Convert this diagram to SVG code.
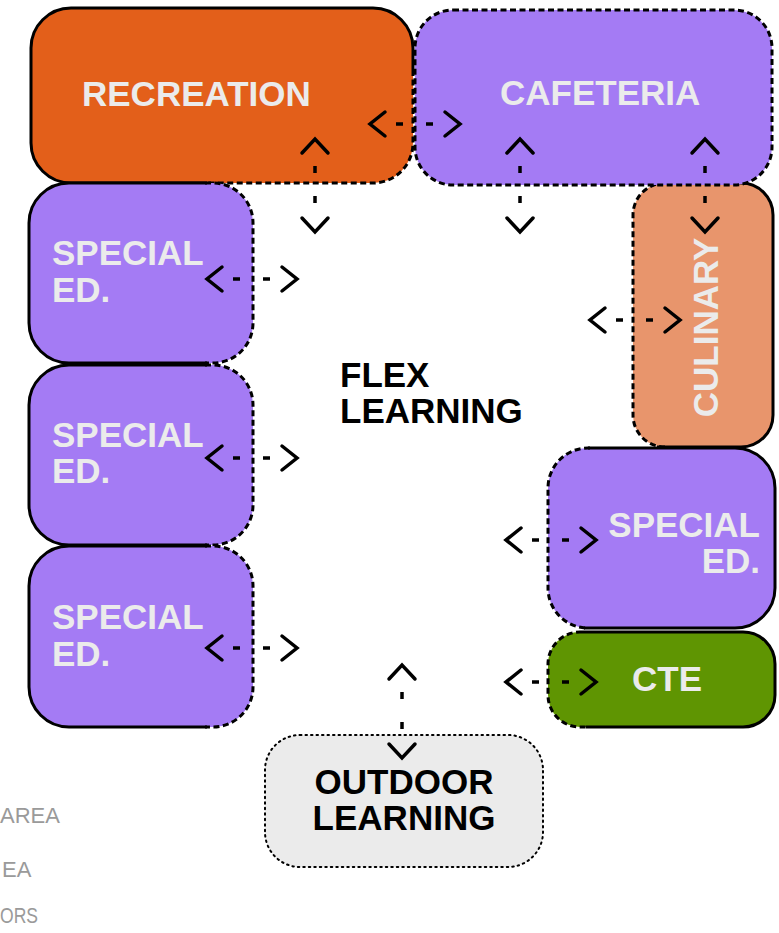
<svg xmlns="http://www.w3.org/2000/svg" width="779" height="933" viewBox="0 0 779 933">
<style>
.lbl{font-family:"Liberation Sans",Arial,sans-serif;font-weight:bold;font-size:35px;fill:#EBEBEB}
.dark{fill:#000}
.solid{fill:none;stroke:#000;stroke-width:3}
.dash{fill:none;stroke:#000;stroke-width:3;stroke-dasharray:6 3.5}
.dot{fill:#EBEBEB;stroke:#000;stroke-width:2;stroke-dasharray:1.5 4;stroke-linecap:round}
.arr{fill:none;stroke:#000;stroke-width:3.5;stroke-linecap:round;stroke-linejoin:miter}
.arrd{fill:none;stroke:#000;stroke-width:3.5;stroke-dasharray:7 23}
.legend{font-family:"Liberation Sans",Arial,sans-serif;font-size:22px;fill:#9A9A9A}
.orange{fill:#E35F1A}
.purple{fill:#A47BF4}
.salmon{fill:#E8956C}
.green{fill:#5F9502}
</style>
<defs>
<g id="harrow">
<path class="arr" d="M15,-12 L0,0 L15,12"/>
<path class="arrd" d="M26,0 H64"/>
<path class="arr" d="M75,-12 L90,0 L75,12"/>
</g>
<g id="varrow">
<path class="arr" d="M-13,14 L0,0 L13,14"/>
<path class="arrd" d="M0,27 V65"/>
<path class="arr" d="M-13,79 L0,93 L13,79"/>
</g>
</defs>

<g id="recreation">
<rect class="orange" x="31" y="8" width="382" height="175" rx="40"/>
<path class="solid" d="M205,183 H71 A40,40 0 0 1 31,143 V48 A40,40 0 0 1 71,8 H373 A40,40 0 0 1 413,48 V70"/>
<path class="dash" d="M413,70 V143 A40,40 0 0 1 373,183 H205"/>
<text class="lbl" x="82" y="106">RECREATION</text>
</g>

<g id="culinary">
<rect class="salmon" x="633" y="183" width="140" height="264" rx="32"/>
<path class="solid" d="M665,183 H741 A32,32 0 0 1 773,215 V415 A32,32 0 0 1 741,447 H657"/>
<path class="dash" d="M665,447 A32,32 0 0 1 633,415 V215 A32,32 0 0 1 665,183"/>
<text class="lbl" transform="translate(718,327.5) rotate(-90)" text-anchor="middle" x="0" y="0">CULINARY</text>
</g>

<g id="cafeteria">
<rect class="purple" x="415" y="10" width="357" height="175" rx="38"/>
<rect class="dash" x="415" y="10" width="357" height="175" rx="38"/>
<text class="lbl" x="500" y="105">CAFETERIA</text>
</g>

<g id="special-ed-1">
<rect class="purple" x="29" y="183" width="224" height="180" rx="40"/>
<path class="solid" d="M207,183 H69 A40,40 0 0 0 29,223 V323 A40,40 0 0 0 69,363 H207"/>
<path class="dash" d="M205,183 H213 A40,40 0 0 1 253,223 V323 A40,40 0 0 1 213,363 H205"/>
<text class="lbl" x="52" y="265">SPECIAL</text>
<text class="lbl" x="52" y="302">ED.</text>
</g>

<g id="special-ed-2">
<rect class="purple" x="29" y="365" width="224" height="180" rx="40"/>
<path class="solid" d="M207,365 H69 A40,40 0 0 0 29,405 V505 A40,40 0 0 0 69,545 H207"/>
<path class="dash" d="M205,365 H213 A40,40 0 0 1 253,405 V505 A40,40 0 0 1 213,545 H205"/>
<text class="lbl" x="52" y="447">SPECIAL</text>
<text class="lbl" x="52" y="483">ED.</text>
</g>

<g id="special-ed-3">
<rect class="purple" x="29" y="546" width="224" height="181" rx="40"/>
<path class="solid" d="M207,546 H69 A40,40 0 0 0 29,586 V687 A40,40 0 0 0 69,727 H207"/>
<path class="dash" d="M205,546 H213 A40,40 0 0 1 253,586 V687 A40,40 0 0 1 213,727 H205"/>
<text class="lbl" x="52" y="629">SPECIAL</text>
<text class="lbl" x="52" y="666">ED.</text>
</g>

<g id="special-ed-4">
<rect class="purple" x="548" y="448" width="227" height="180" rx="40"/>
<path class="solid" d="M588,448 H735 A40,40 0 0 1 775,488 V588 A40,40 0 0 1 735,628 H584"/>
<path class="dash" d="M590,448 H588 A40,40 0 0 0 548,488 V588 A40,40 0 0 0 588,628"/>
<text class="lbl" x="760" y="537" text-anchor="end">SPECIAL</text>
<text class="lbl" x="760" y="573" text-anchor="end">ED.</text>
</g>

<g id="cte">
<rect class="green" x="548" y="632" width="227" height="95" rx="32"/>
<path class="solid" d="M582,632 H743 A32,32 0 0 1 775,664 V695 A32,32 0 0 1 743,727 H586"/>
<path class="dash" d="M582,632 H580 A32,32 0 0 0 548,664 V695 A32,32 0 0 0 580,727 H588"/>
<text class="lbl" x="667" y="691" text-anchor="middle">CTE</text>
</g>

<g id="outdoor-learning">
<rect class="dot" x="265" y="735" width="278" height="132" rx="35"/>
<text class="lbl dark" x="404" y="794" text-anchor="middle">OUTDOOR</text>
<text class="lbl dark" x="404" y="830" text-anchor="middle">LEARNING</text>
</g>

<g id="flex-learning">
<text class="lbl dark" x="340" y="387">FLEX</text>
<text class="lbl dark" x="340" y="423">LEARNING</text>
</g>

<g id="legend">
<text class="legend" x="0" y="823">AREA</text>
<text class="legend" x="2" y="877">EA</text>
<text class="legend" x="0" y="923" textLength="38" lengthAdjust="spacingAndGlyphs">ORS</text>
</g>

<g id="connectors">
<use href="#harrow" x="370" y="124"/>
<use href="#harrow" x="207" y="279"/>
<use href="#harrow" x="207" y="458"/>
<use href="#harrow" x="207" y="648"/>
<use href="#harrow" x="590" y="320"/>
<use href="#harrow" x="506" y="540"/>
<use href="#harrow" x="506" y="682"/>
<use href="#varrow" x="315" y="139"/>
<use href="#varrow" x="520" y="139"/>
<use href="#varrow" x="705" y="139"/>
<use href="#varrow" x="402" y="665"/>
</g>
</svg>
